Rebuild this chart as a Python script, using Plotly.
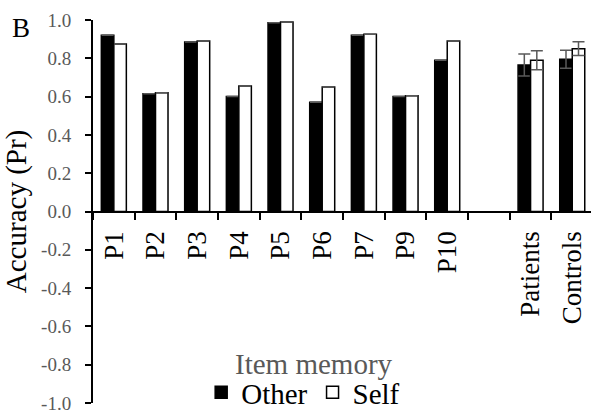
import plotly.graph_objects as go

# Item-memory accuracy (Pr) per participant and group means
categories = ["P1", "P2", "P3", "P4", "P5", "P6", "P7", "P9", "P10", " ", "Patients", "Controls"]
other_pr = [0.92, 0.615, 0.885, 0.60, 0.985, 0.57, 0.92, 0.60, 0.79, None, 0.765, 0.795]
self_pr = [0.875, 0.62, 0.89, 0.655, 0.99, 0.65, 0.925, 0.605, 0.89, None, 0.79, 0.85]
other_err = [None] * 10 + [0.057, 0.047]
self_err = [None] * 10 + [0.05, 0.036]

y_tickvals = [1.0, 0.8, 0.6, 0.4, 0.2, 0.0, -0.2, -0.4, -0.6, -0.8, -1.0]
y_ticktext = ["1.0", "0.8", "0.6", "0.4", "0.2", "0.0", "-0.2", "-0.4", "-0.6", "-0.8", "-1.0"]

SERIF = "Liberation Serif"
GREY = "#595959"

fig = go.Figure()
fig.add_trace(go.Bar(
    name="Other", x=categories, y=other_pr,
    marker=dict(color="black", line=dict(color="black", width=1.5)),
    error_y=dict(type="data", array=other_err, visible=True,
                 color=GREY, thickness=1.5, width=6),
))
fig.add_trace(go.Bar(
    name="Self", x=categories, y=self_pr,
    marker=dict(color="white", line=dict(color="black", width=1.5)),
    error_y=dict(type="data", array=self_err, visible=True,
                 color=GREY, thickness=1.5, width=6),
))

fig.update_layout(
    width=591, height=418,
    margin=dict(l=93, r=0, t=20, b=15, autoexpand=False),
    paper_bgcolor="white", plot_bgcolor="white",
    barmode="group", bargap=0.4, bargroupgap=0,
    font=dict(family=SERIF, color="black"),
    showlegend=True,
    legend=dict(orientation="h", x=0.513, xref="container", xanchor="center",
                y=0.0, yref="container", yanchor="bottom",
                font=dict(family=SERIF, size=29, color="black"), bgcolor="rgba(0,0,0,0)",
                itemclick=False, traceorder="normal", itemwidth=30),
    xaxis=dict(
        type="category", categoryorder="array", categoryarray=categories,
        range=[-0.5, 11.45], anchor="free", position=0.5,
        showline=True, linecolor="black", linewidth=2,
        ticks="outside", tickson="boundaries", ticklen=7, tickwidth=1.5, tickcolor="black",
        tickangle=-90, tickfont=dict(family=SERIF, size=27, color="black"),
        ticklabelstandoff=8,
        showgrid=False, zeroline=False,
    ),
    yaxis=dict(
        range=[-1, 1], tickvals=y_tickvals, ticktext=y_ticktext,
        showline=True, linecolor="black", linewidth=2,
        ticks="outside", ticklen=6, tickwidth=1.5, tickcolor="black",
        tickfont=dict(family=SERIF, size=19, color=GREY), ticklabelstandoff=10,
        showgrid=False, zeroline=False,
        title=dict(text="Accuracy (Pr)", font=dict(family=SERIF, size=29, color="black"), standoff=10),
    ),
    annotations=[
        dict(text="B", x=0, y=1, xref="paper", yref="paper", xanchor="left", yanchor="top",
             xshift=-83, yshift=9, showarrow=False, font=dict(family=SERIF, size=27, color="black")),
        dict(text="Item memory", x=(314 - 93) / 498, y=(403 - 364) / 383,
             xref="paper", yref="paper", xanchor="center", yanchor="middle",
             showarrow=False, font=dict(family=SERIF, size=29, color=GREY)),
    ],
)

fig.write_html("out.html")
